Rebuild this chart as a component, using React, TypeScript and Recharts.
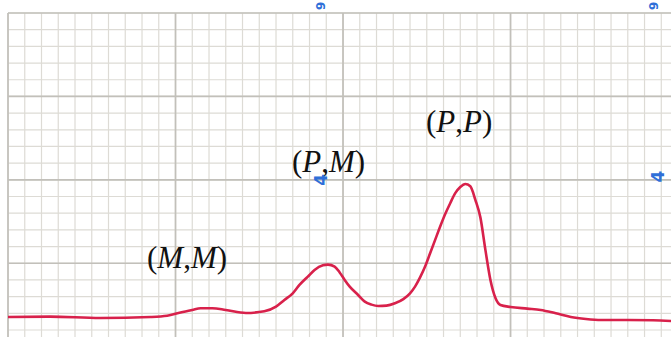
import { LineChart, Line, XAxis, YAxis, ReferenceLine, ReferenceDot } from "recharts";

// trace positions in chart-paper divisions (x from left edge, y from bottom major line area)
const traceX = [
  0, 2.5, 5.5, 8.5, 9.5, 10.3, 11.0, 11.5, 12.2, 13.0, 14.2, 15.3, 16.0, 16.5,
  17.0, 17.4, 17.9, 18.3, 18.8, 19.1, 19.5, 19.8, 20.1, 20.4, 20.9, 21.3, 21.7,
  22.1, 22.6, 23.1, 23.6, 24.0, 24.3, 24.6, 24.9, 25.2, 25.5, 25.8, 26.1, 26.4,
  26.7, 27.0, 27.3, 27.6, 27.9, 28.2, 28.5, 28.8, 29.1, 29.4, 30.0, 31.0, 31.8,
  32.7, 33.6, 34.5, 35.4, 37.0, 38.5, 39.6,
];
const traceY = [
  0.78, 0.8, 0.72, 0.78, 0.85, 1.05, 1.2, 1.3, 1.3, 1.2, 1.02, 1.12, 1.4, 1.8,
  2.2, 2.7, 3.2, 3.6, 3.88, 3.92, 3.8, 3.45, 3.0, 2.6, 2.1, 1.7, 1.52, 1.44,
  1.46, 1.6, 1.85, 2.2, 2.6, 3.15, 3.8, 4.6, 5.4, 6.2, 6.95, 7.6, 8.2, 8.57,
  8.75, 8.62, 7.8, 6.75, 4.8, 3.0, 1.92, 1.5, 1.38, 1.28, 1.2, 1.0, 0.78,
  0.66, 0.6, 0.6, 0.58, 0.54,
];

const minorX = [
  0, 1, 2, 3, 4, 5, 6, 7, 8, 9, 10, 11, 12, 13, 14, 15, 16, 17, 18, 19, 20, 21,
  22, 23, 24, 25, 26, 27, 28, 29, 30, 31, 32, 33, 34, 35, 36, 37, 38, 39,
];
const majorX = [0, 10, 20, 30];
const minorY = [0, 1, 2, 3, 4, 5, 6, 7, 8, 9, 10, 11, 12, 13, 14, 15, 16, 17, 18, 19];
const majorY = [4, 9, 14, 19];

const labelText = ["(M,M)", "(P,M)", "(P,P)"];
const labelX = [8.3, 16.95, 24.95];
const labelY = [3.72, 9.47, 11.87];

const markText = ["4", "4", "6", "6"];
const markX = [18.7, 38.8, 18.6, 38.5];
const markY = [9.0, 9.2, 19.42, 19.42];

const data = traceX.map((x, i) => ({ x, y: traceY[i] }));

const minorColor = "#dddbd5";
const majorColor = "#c2c0ba";

function PeakLabel({ viewBox, text }: { viewBox?: any; text: string }) {
  const x = viewBox?.x ?? 0;
  const y = viewBox?.y ?? 0;
  const parts = text.split(/([A-Z])/).filter((p) => p !== "");
  return (
    <text x={x} y={y} fontFamily="'Liberation Serif', serif" fontSize={31} fill="#111">
      {parts.map((p, i) => (
        <tspan key={i} fontStyle={/[A-Z]/.test(p) ? "italic" : "normal"}>
          {p}
        </tspan>
      ))}
    </text>
  );
}

function PaperMark({ viewBox, text }: { viewBox?: any; text: string }) {
  const x = viewBox?.x ?? 0;
  const y = viewBox?.y ?? 0;
  const angle = text === "4" ? -90 : 90;
  const size = text === "4" ? 17 : 12;
  return (
    <text
      x={x}
      y={y}
      transform={`rotate(${angle} ${x} ${y})`}
      textAnchor="middle"
      dominantBaseline="central"
      fontFamily="'DejaVu Sans', sans-serif"
      fontWeight="bold"
      fontSize={size}
      fill="#2f6fd8"
    >
      {text}
    </text>
  );
}

export default function App() {
  return (
    <div style={{ position: "fixed", left: 0, top: 0, width: 671, height: 337, background: "#ffffff" }}>
      <LineChart
        width={671}
        height={337}
        data={data}
        margin={{ top: 13, right: 0, bottom: 0, left: 8 }}
      >
        <XAxis type="number" dataKey="x" domain={[0, 39.58]} allowDataOverflow hide />
        <YAxis type="number" domain={[-0.42, 19]} allowDataOverflow hide />
        {minorX.map((v) => (
          <ReferenceLine key={`vx${v}`} x={v} stroke={minorColor} strokeWidth={1.2} />
        ))}
        {minorY.map((v) => (
          <ReferenceLine key={`hy${v}`} y={v} stroke={minorColor} strokeWidth={1.2} />
        ))}
        {majorX.map((v) => (
          <ReferenceLine key={`mx${v}`} x={v} stroke={majorColor} strokeWidth={1.7} />
        ))}
        {majorY.map((v) => (
          <ReferenceLine key={`my${v}`} y={v} stroke={majorColor} strokeWidth={1.7} />
        ))}
        <Line
          type="monotone"
          dataKey="y"
          stroke="#d8214b"
          strokeWidth={2.6}
          dot={false}
          isAnimationActive={false}
        />
        {labelText.map((t, i) => (
          <ReferenceDot
            key={t}
            x={labelX[i]}
            y={labelY[i]}
            r={0}
            stroke="none"
            fill="none"
            ifOverflow="visible"
            label={(props: any) => <PeakLabel viewBox={props.viewBox} text={t} />}
          />
        ))}
        {markText.map((t, i) => (
          <ReferenceDot
            key={`m${i}`}
            x={markX[i]}
            y={markY[i]}
            r={0}
            stroke="none"
            fill="none"
            ifOverflow="visible"
            label={(props: any) => <PaperMark viewBox={props.viewBox} text={t} />}
          />
        ))}
      </LineChart>
    </div>
  );
}
